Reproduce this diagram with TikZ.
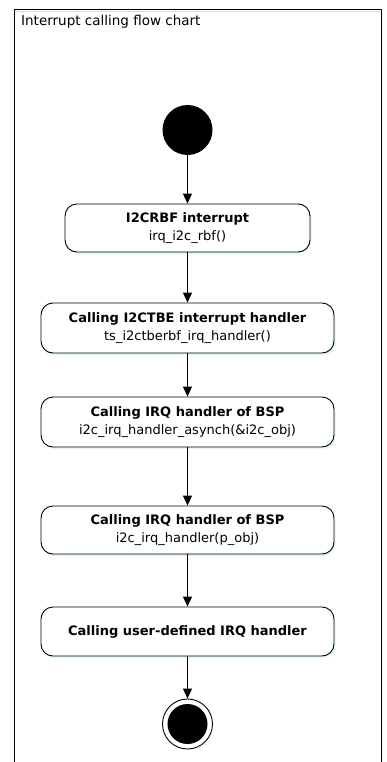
\documentclass[tikz,border=0pt]{standalone}
\usepackage{fontspec}
\setmainfont{DejaVu Sans}
\usetikzlibrary{arrows.meta,shadows}
\begin{document}
\begin{tikzpicture}[x=1pt,y=-1pt,
  actbox/.style={draw, line width=0.9pt, rounded corners=12pt, fill=white, align=center,
    inner sep=0pt, font=\fontsize{13}{17.5}\selectfont,
    drop shadow={shadow xshift=1.5pt, shadow yshift=-2pt, fill=blue!25!cyan!20, opacity=0.6}},
  flow/.style={line width=0.9pt, -{Triangle[length=10pt,width=9pt]}}]
\useasboundingbox (0,0) rectangle (387,762);
\fill[white] (0,0) rectangle (387,762);
% frame
\draw[line width=1pt] (14,762) -- (14,10) -- (381,10) -- (381,762);
\draw[blue!15, line width=1pt] (15,11.5) -- (380,11.5);
\node[anchor=west, inner sep=0pt, font=\fontsize{13.5}{15}\selectfont] (title) at (21,22) {Interrupt calling flow chart};
% start
\node[circle, fill=black, minimum size=50pt, inner sep=0pt] (start) at (187.5,130) {};
% boxes
\node[actbox, minimum width=245pt, minimum height=48pt] (b1) at (187.5,228) {\textbf{I2CRBF interrupt}\\irq\_i2c\_rbf()};
\node[actbox, minimum width=293pt, minimum height=50pt] (b2) at (187.5,328) {\textbf{Calling I2CTBE interrupt handler}\\ts\_i2ctberbf\_irq\_handler()};
\node[actbox, minimum width=293pt, minimum height=50pt] (b3) at (187.5,422) {\textbf{Calling IRQ handler of BSP}\\i2c\_irq\_handler\_asynch(\&i2c\_obj)};
\node[actbox, minimum width=293pt, minimum height=48pt] (b4) at (187.5,530) {\textbf{Calling IRQ handler of BSP}\\i2c\_irq\_handler(p\_obj)};
\node[actbox, minimum width=293pt, minimum height=49pt] (b5) at (187.5,631.5) {\textbf{Calling user-defined IRQ handler}};
% end
\node[circle, draw, line width=0.9pt, fill=white, minimum size=50pt, inner sep=0pt] (end) at (187.5,724) {};
\fill[black] (end.center) circle (20pt);
% arrows
\draw[flow] (start) -- (b1);
\draw[flow] (b1) -- (b2);
\draw[flow] (b2) -- (b3);
\draw[flow] (b3) -- (b4);
\draw[flow] (b4) -- (b5);
\draw[flow] (b5) -- (end);
\end{tikzpicture}
\end{document}
